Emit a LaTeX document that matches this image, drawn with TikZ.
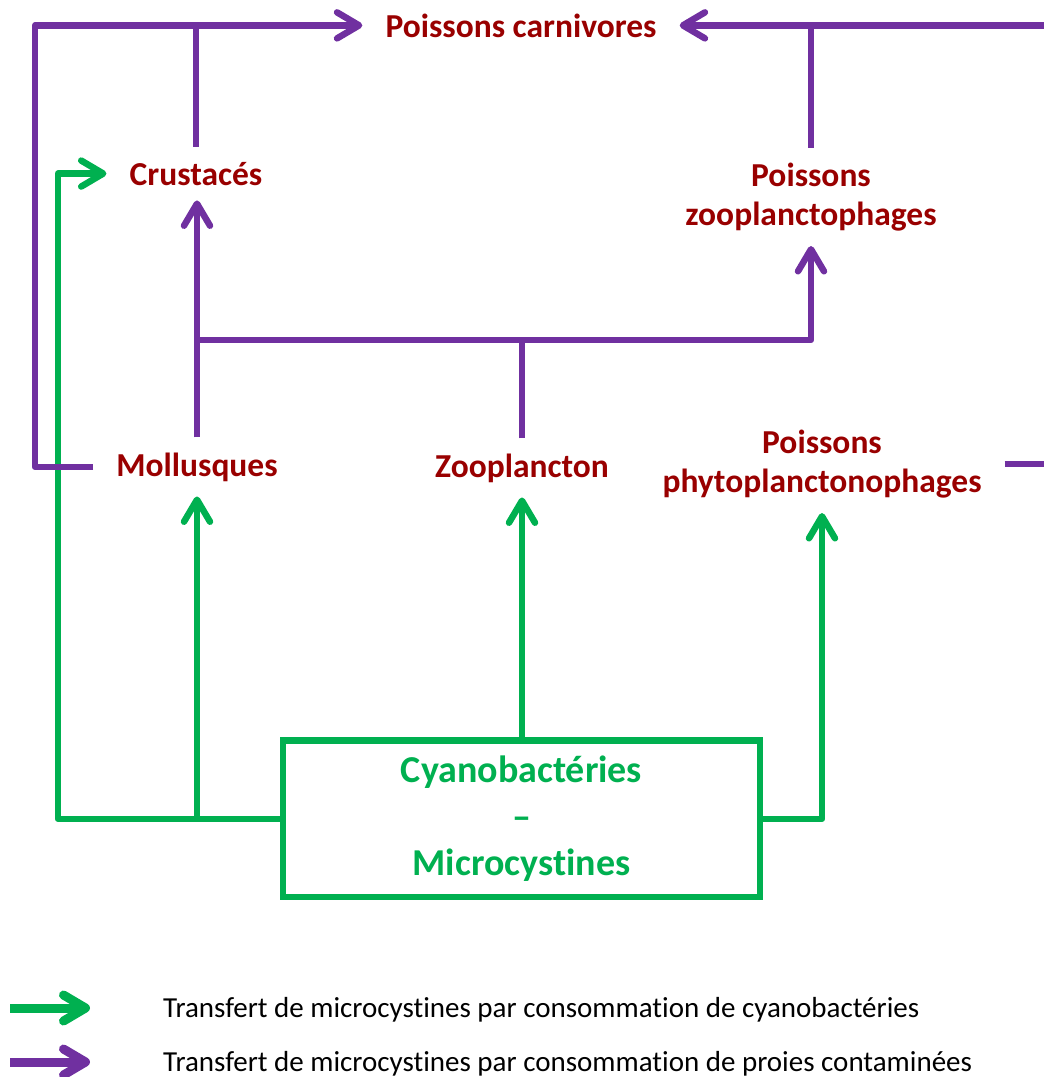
\documentclass[tikz,border=0pt]{standalone}
\usepackage{fontspec}
\setmainfont{Carlito}[Ligatures=NoCommon]
\usetikzlibrary{arrows.meta, calc, positioning}
\definecolor{cyanogreen}{RGB}{0,176,80}
\definecolor{preypurple}{RGB}{112,48,160}
\definecolor{labelred}{RGB}{153,0,0}

\begin{document}
\begin{tikzpicture}[x=1pt,y=-1pt,
    lbl/.style={text=labelred,font=\fontsize{33.5}{38.5}\selectfont\bfseries,inner xsep=23pt,inner ysep=15pt,align=center},
    gline/.style={draw=cyanogreen,line width=6.5pt,line join=round},
    pline/.style={draw=preypurple,line width=6.5pt,line join=round},
    barb/.style={-{Straight Barb[round,length=22pt,width=26pt]}},
    legtext/.style={anchor=base west,inner sep=0pt,font=\fontsize{29}{34}\selectfont}]
\clip (0,0) rectangle (1044,1077);
\node[lbl,anchor=base] (carn) at (521,37) {Poissons carnivores};
\node[lbl,anchor=base] (crus) at (196,185) {Crustacés};
\node[lbl] (zpf) at (811,197) {Poissons\\zooplanctophages};
\node[lbl,anchor=base] (moll) at (197,476) {Mollusques};
\node[lbl,anchor=base] (zoopl) at (522,477) {Zooplancton};
\node[lbl] (phyto) at (822,464) {Poissons\\phytoplanctonophages};
\node[draw=cyanogreen,line width=6.5pt,minimum width=477pt,minimum height=156.5pt,inner sep=0pt,text=cyanogreen,font=\fontsize{38}{46.5}\selectfont\bfseries,align=center] (cyano) at (521.5,818.8) {Cyanobactéries\\–\\Microcystines};
\coordinate (jz) at (522,340);
\coordinate (lx) at (35,0);
\coordinate (gx) at (58,0);
\coordinate (rx) at (1070,0);
\draw[gline,barb] (zoopl.south |- cyano.north) -- (zoopl.south);
\draw[gline,barb] (cyano.west) -- (cyano.west -| gx) |- (crus.west);
\draw[gline,barb] (cyano.west -| moll.south) -- (moll.south);
\draw[gline,barb] (cyano.east) -| (phyto.south);
\draw[pline] (zoopl.north) -- (zoopl.north |- jz);
\draw[pline,barb] (moll.north) -- (moll.north |- crus.south);
\draw[pline,barb] (moll.north |- jz) -| (zpf.south);
\draw[pline] (crus.north) -- (crus.north |- carn.west);
\draw[pline] (zpf.north) -- (zpf.north |- carn.east);
\draw[pline,barb] (moll.west) -- (moll.west -| lx) |- (carn.west);
\draw[pline,barb] (phyto.east) -- (phyto.east -| rx) |- (carn.east);
\coordinate (g1) at (10,1008);
\coordinate (g2) at (90,1008);
\coordinate (p1) at (10,1062);
\coordinate (p2) at (90,1062);
\draw[gline,line width=9pt,barb] (g1) -- (g2);
\draw[pline,line width=9pt,barb] (p1) -- (p2);
\node[legtext] (leg1) at (163,1017) {Transfert de microcystines par consommation de cyanobactéries};
\node[legtext] (leg2) at (163,1071) {Transfert de microcystines par consommation de proies contaminées};
\end{tikzpicture}
\end{document}
